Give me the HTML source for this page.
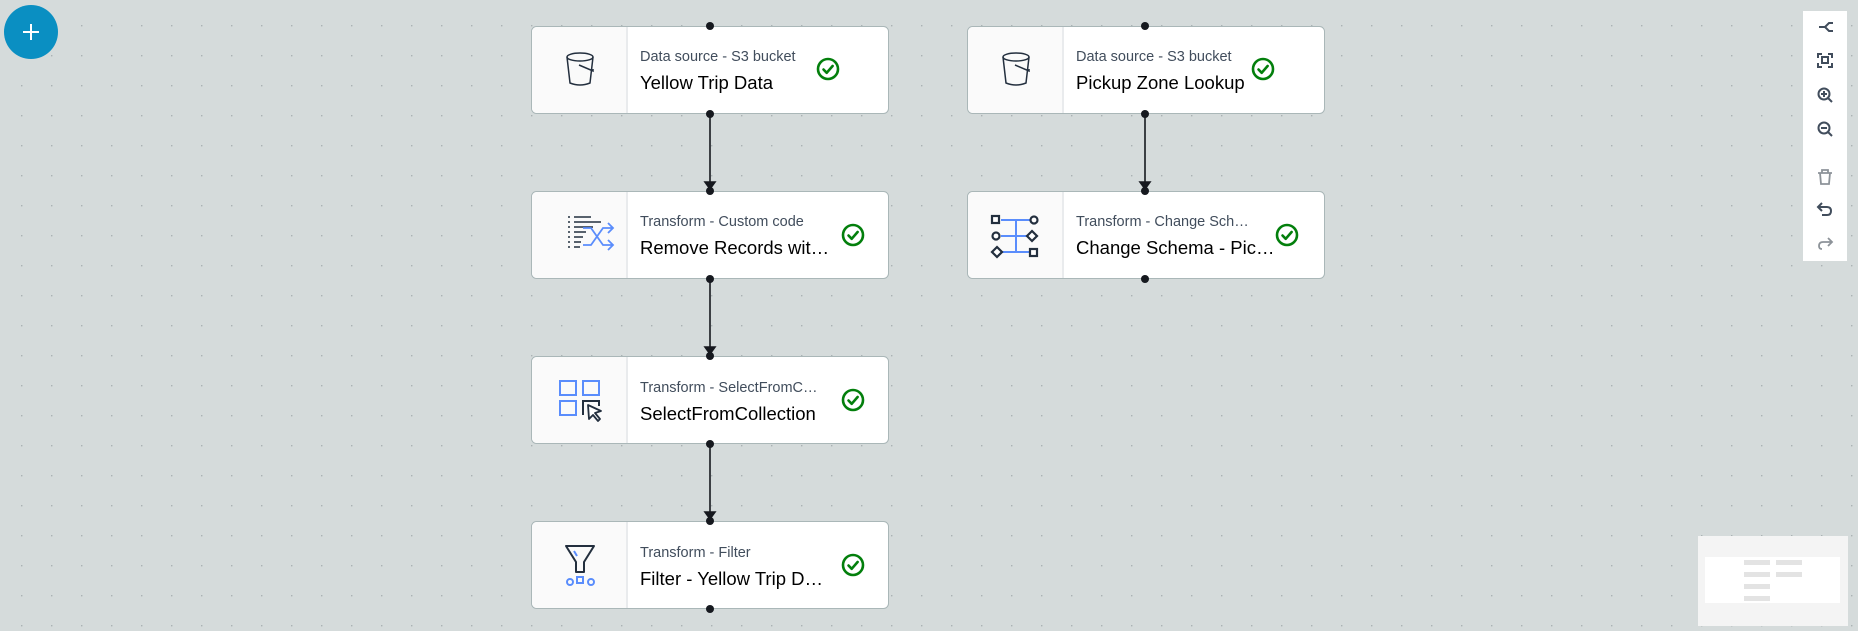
<!DOCTYPE html>
<html><head><meta charset="utf-8"><style>
html,body{margin:0;padding:0;width:1858px;height:631px;overflow:hidden;background:#d5dbdb;}
svg{display:block}
text{font-family:"Liberation Sans","DejaVu Sans",sans-serif;}
</style></head><body>
<svg width="1858" height="631" viewBox="0 0 1858 631" xmlns="http://www.w3.org/2000/svg">
<defs>
<pattern id="dots" x="21" y="25" width="30" height="30" patternUnits="userSpaceOnUse">
<circle cx="0.7" cy="0.7" r="0.8" fill="#a9b1b3"/>
</pattern>
<g id="check"><circle r="10" fill="none" stroke="#037f0c" stroke-width="2.6"/><path d="M-4.5 0.5 L-1.3 3.8 L4.6 -3" fill="none" stroke="#037f0c" stroke-width="2.6" stroke-linecap="round" stroke-linejoin="round"/></g>
</defs>
<rect width="1858" height="631" fill="#d5dbdb"/>
<rect width="1858" height="631" fill="url(#dots)"/>

<!-- plus button -->
<circle cx="31" cy="32" r="27" fill="#0a8fc2"/>
<path d="M31 24 V40 M23 32 H39" stroke="#fff" stroke-width="2"/>

<!-- connectors -->
<g stroke="#16191f" stroke-width="1.6" fill="#16191f">
<line x1="710" y1="114" x2="710" y2="183"/><path d="M705 182 L715 182 L710 189 Z"/>
<line x1="710" y1="279" x2="710" y2="348"/><path d="M705 347 L715 347 L710 354 Z"/>
<line x1="710" y1="443" x2="710" y2="513"/><path d="M705 512 L715 512 L710 519 Z"/>
<line x1="1145" y1="114" x2="1145" y2="183"/><path d="M1140 182 L1150 182 L1145 189 Z"/>
</g>

<!-- nodes -->
<g id="nodes">
<g transform="translate(531,26)">
<rect x="0.5" y="0.5" width="357" height="87" rx="5" fill="#fff" stroke="#aab7b8"/>
<path d="M5.5 1 H96 V87 H5.5 A5 5 0 0 1 1 82 V6 A5 5 0 0 1 5.5 1Z" fill="#fafafa"/>
<line x1="96" y1="1" x2="96" y2="87" stroke="#e9ebed" stroke-width="2"/>
<g fill="none" stroke="#232f3e" stroke-width="1.5"><ellipse cx="49" cy="31" rx="13" ry="4"/><path d="M36 31 L39 57 Q49 61 59 57 L62 31"/><path d="M48 39 L62 45 L62 43"/></g>
<text x="109" y="35" font-size="14.5" fill="#414d5c">Data source - S3 bucket</text>
<text x="109" y="63" font-size="18.5" fill="#000">Yellow Trip Data</text>
<use href="#check" x="297" y="43"/>
<circle cx="179" cy="0" r="4" fill="#16191f"/><circle cx="179" cy="88" r="4" fill="#16191f"/>
</g>
<g transform="translate(531,191)">
<rect x="0.5" y="0.5" width="357" height="87" rx="5" fill="#fff" stroke="#aab7b8"/>
<path d="M5.5 1 H96 V87 H5.5 A5 5 0 0 1 1 82 V6 A5 5 0 0 1 5.5 1Z" fill="#fafafa"/>
<line x1="96" y1="1" x2="96" y2="87" stroke="#e9ebed" stroke-width="2"/>
<g stroke="#232f3e" stroke-width="1.6"><path d="M37 26 H39 M37 31 H39 M37 36 H39 M37 41 H39 M37 46 H39 M37 51 H39 M37 56 H39"/><path d="M43 26 H60 M43 31 H70 M43 36 H62 M43 41 H55 M43 46 H52 M43 51 H50 M43 56 H49"/></g>
<g fill="none" stroke="#5a8dfc" stroke-width="1.8"><path d="M52 37 H60 L72 54 H82 M52 54 H60 L72 37 H82 M77 32 L82 37 L77 42 M77 49 L82 54 L77 59"/></g>
<text x="109" y="35" font-size="14.5" fill="#414d5c">Transform - Custom code</text>
<text x="109" y="63" font-size="18.5" fill="#000">Remove Records wit…</text>
<use href="#check" x="322" y="44"/>
<circle cx="179" cy="0" r="4" fill="#16191f"/><circle cx="179" cy="88" r="4" fill="#16191f"/>
</g>
<g transform="translate(531,356)">
<rect x="0.5" y="0.5" width="357" height="87" rx="5" fill="#fff" stroke="#aab7b8"/>
<path d="M5.5 1 H96 V87 H5.5 A5 5 0 0 1 1 82 V6 A5 5 0 0 1 5.5 1Z" fill="#fafafa"/>
<line x1="96" y1="1" x2="96" y2="87" stroke="#e9ebed" stroke-width="2"/>
<g fill="none" stroke="#5a8dfc" stroke-width="2"><rect x="29" y="25" width="16" height="14"/><rect x="52" y="25" width="16" height="14"/><rect x="29" y="45" width="16" height="14"/></g>
<path d="M52 59 V45 H68 V50" fill="none" stroke="#232f3e" stroke-width="2"/>
<path d="M57 49 L70 55 L64 57 L69 63 L67 65 L62 59 L58 63 Z" fill="#fff" stroke="#232f3e" stroke-width="1.8" stroke-linejoin="round"/>
<text x="109" y="36" font-size="14.5" fill="#414d5c">Transform - SelectFromC…</text>
<text x="109" y="64" font-size="18.5" fill="#000">SelectFromCollection</text>
<use href="#check" x="322" y="44"/>
<circle cx="179" cy="0" r="4" fill="#16191f"/><circle cx="179" cy="88" r="4" fill="#16191f"/>
</g>
<g transform="translate(531,521)">
<rect x="0.5" y="0.5" width="357" height="87" rx="5" fill="#fff" stroke="#aab7b8"/>
<path d="M5.5 1 H96 V87 H5.5 A5 5 0 0 1 1 82 V6 A5 5 0 0 1 5.5 1Z" fill="#fafafa"/>
<line x1="96" y1="1" x2="96" y2="87" stroke="#e9ebed" stroke-width="2"/>
<path d="M35 25 H63 L53 41 V51 H45 V41 Z" fill="none" stroke="#232f3e" stroke-width="2" stroke-linejoin="round"/>
<path d="M43 30 L46 35" stroke="#5a8dfc" stroke-width="2"/>
<g fill="none" stroke="#5a8dfc" stroke-width="2"><circle cx="39" cy="61" r="3"/><rect x="46" y="56" width="6" height="6"/><circle cx="60" cy="61" r="3"/></g>
<text x="109" y="36" font-size="14.5" fill="#414d5c">Transform - Filter</text>
<text x="109" y="64" font-size="18.5" fill="#000">Filter - Yellow Trip D…</text>
<use href="#check" x="322" y="44"/>
<circle cx="179" cy="0" r="4" fill="#16191f"/><circle cx="179" cy="88" r="4" fill="#16191f"/>
</g>
<g transform="translate(967,26)">
<rect x="0.5" y="0.5" width="357" height="87" rx="5" fill="#fff" stroke="#aab7b8"/>
<path d="M5.5 1 H96 V87 H5.5 A5 5 0 0 1 1 82 V6 A5 5 0 0 1 5.5 1Z" fill="#fafafa"/>
<line x1="96" y1="1" x2="96" y2="87" stroke="#e9ebed" stroke-width="2"/>
<g fill="none" stroke="#232f3e" stroke-width="1.5"><ellipse cx="49" cy="31" rx="13" ry="4"/><path d="M36 31 L39 57 Q49 61 59 57 L62 31"/><path d="M48 39 L62 45 L62 43"/></g>
<text x="109" y="35" font-size="14.5" fill="#414d5c">Data source - S3 bucket</text>
<text x="109" y="63" font-size="18.5" fill="#000">Pickup Zone Lookup</text>
<use href="#check" x="296" y="43"/>
<circle cx="178" cy="0" r="4" fill="#16191f"/><circle cx="178" cy="88" r="4" fill="#16191f"/>
</g>
<g transform="translate(967,191)">
<rect x="0.5" y="0.5" width="357" height="87" rx="5" fill="#fff" stroke="#aab7b8"/>
<path d="M5.5 1 H96 V87 H5.5 A5 5 0 0 1 1 82 V6 A5 5 0 0 1 5.5 1Z" fill="#fafafa"/>
<line x1="96" y1="1" x2="96" y2="87" stroke="#e9ebed" stroke-width="2"/>
<g stroke="#5a8dfc" stroke-width="2"><path d="M34 29 H63 M34 45 H60 M34 61 H62 M49 29 V61"/></g>
<g fill="#fff" stroke="#232f3e" stroke-width="2.2"><rect x="25" y="25" width="7" height="7"/><circle cx="67" cy="29" r="3.5"/><circle cx="29" cy="45" r="3.5"/><path d="M65 40 L70 45 L65 50 L60 45Z"/><path d="M30 56 L35 61 L30 66 L25 61Z"/><rect x="63" y="58" width="7" height="7"/></g>
<text x="109" y="35" font-size="14.5" fill="#414d5c">Transform - Change Sch…</text>
<text x="109" y="63" font-size="18.5" fill="#000">Change Schema - Pic…</text>
<use href="#check" x="320" y="44"/>
<circle cx="178" cy="0" r="4" fill="#16191f"/><circle cx="178" cy="88" r="4" fill="#16191f"/>
</g>
</g>

<!-- toolbar -->
<rect x="1803" y="11" width="44" height="250" fill="#fff"/>
<g fill="none" stroke="#414d5c" stroke-width="2">
<path d="M1819 27 H1825 M1825 27 L1829 23 H1833 M1825 27 L1829 31 H1833"/>
<path d="M1818 58 V54 H1822 M1828 54 H1832 V58 M1832 63 V67 H1828 M1822 67 H1818 V63"/><rect x="1822" y="57" width="6" height="6"/>
<circle cx="1824" cy="94" r="5.5"/><path d="M1828 98 L1832 102 M1821 94 H1827 M1824 91 V97"/>
<circle cx="1824" cy="128" r="5.5"/><path d="M1828 132 L1832 136 M1821 128 H1827"/>
</g>
<g fill="none" stroke="#8d9399" stroke-width="1.8"><path d="M1818 173 H1832 M1822 173 V170 H1828 V173 M1820 173 L1821 184 H1829 L1830 173"/>
<path d="M1831 242 H1823 Q1819 242 1819 246 Q1819 249 1822 249 M1828 238 L1832 242 L1828 246"/></g>
<path d="M1819 207 H1827 Q1831 207 1831 211 Q1831 215 1827 215 H1822 M1822 203 L1818 207 L1822 211" fill="none" stroke="#414d5c" stroke-width="2"/>

<!-- minimap -->
<rect x="1698" y="536" width="150" height="90" fill="#f4f4f4"/>
<rect x="1705" y="557" width="135" height="46" fill="#fff"/>
<g fill="#e3e3e3"><rect x="1744" y="560" width="26" height="5"/><rect x="1776" y="560" width="26" height="5"/><rect x="1744" y="572" width="26" height="5"/><rect x="1776" y="572" width="26" height="5"/><rect x="1744" y="584" width="26" height="5"/><rect x="1744" y="596" width="26" height="5"/></g>
</svg>
</body></html>
